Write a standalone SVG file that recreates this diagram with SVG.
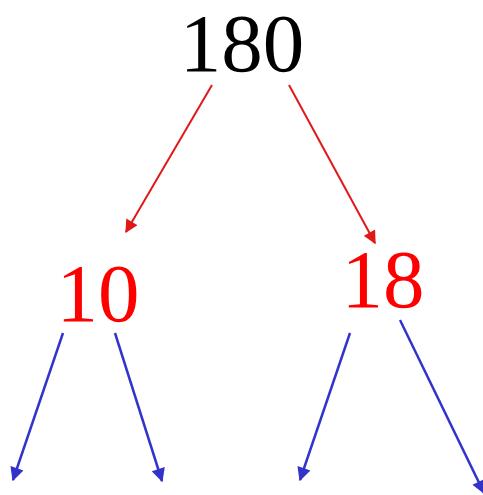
<svg xmlns="http://www.w3.org/2000/svg" width="483" height="495" viewBox="0 0 483 495">
<style>
.t{font-family:"Liberation Serif","Times New Roman",serif;font-size:83px;text-anchor:middle}
.r{stroke:#e01818;stroke-width:2;fill:none}
.b{stroke:#3333cc;stroke-width:2.5;fill:none}
</style>
<defs>
<marker id="ar" viewBox="0 0 10 10" refX="9" refY="5" markerWidth="7.5" markerHeight="6.5" orient="auto" markerUnits="strokeWidth"><path d="M0,0L10,5L0,10z" fill="#e01818"/></marker>
<marker id="ab" viewBox="0 0 10 10" refX="9" refY="5" markerWidth="6.5" markerHeight="5.5" orient="auto" markerUnits="strokeWidth"><path d="M0,0L10,5L0,10z" fill="#3333cc"/></marker>
</defs>
<g id="n180"><text class="t" x="242" y="71" fill="#000">180</text></g>
<g id="n10"><text class="t" x="98" y="321" fill="#ff0000">10</text></g>
<g id="n18"><text class="t" x="383" y="307" fill="#ff0000">18</text></g>
<g id="edges">
<line class="r" x1="212" y1="85" x2="126" y2="232" marker-end="url(#ar)"/>
<line class="r" x1="289" y1="85" x2="375" y2="243" marker-end="url(#ar)"/>
<line class="b" x1="63" y1="333" x2="13" y2="480" marker-end="url(#ab)"/>
<line class="b" x1="115" y1="333" x2="162" y2="481" marker-end="url(#ab)"/>
<line class="b" x1="350" y1="333" x2="300" y2="480" marker-end="url(#ab)"/>
<line class="b" x1="400" y1="320" x2="484" y2="493" marker-end="url(#ab)"/>
</g>
</svg>
